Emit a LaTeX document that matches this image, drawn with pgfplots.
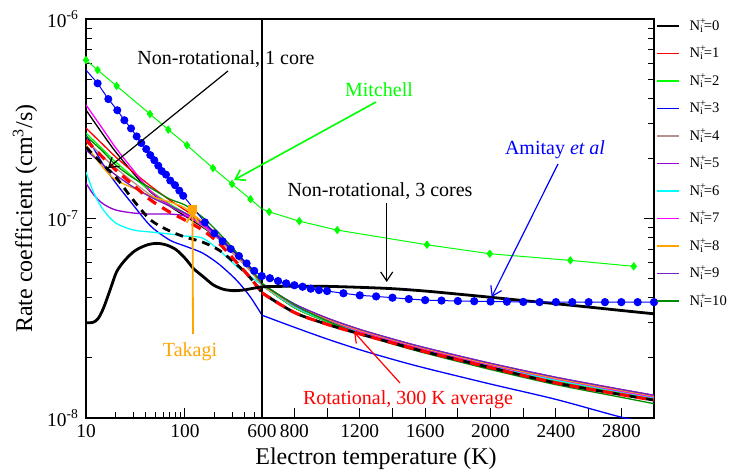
\documentclass[border=0pt]{standalone}
\usepackage{fontspec}
\setmainfont{Liberation Serif}
\usepackage{pgfplots}
\pgfplotsset{compat=1.18}
\usetikzlibrary{arrows.meta}

\definecolor{xbrown}{RGB}{188,143,143}
\definecolor{xviolet}{RGB}{148,0,211}
\definecolor{xindigo}{RGB}{114,33,188}
\definecolor{xgreenD}{RGB}{0,139,0}
\definecolor{xgreen}{RGB}{0,255,0}
\definecolor{xorange}{RGB}{255,165,0}
\definecolor{xcyan}{RGB}{0,255,255}
\definecolor{xmag}{RGB}{255,0,255}
\definecolor{xblue}{RGB}{0,0,255}
\definecolor{xred}{RGB}{255,0,0}

\tikzset{nl/.style={line width=0.65pt, smooth}}

\begin{document}
\begin{tikzpicture}
\useasboundingbox (0,0) rectangle (364.5pt,236pt);

% ---------------- left (log) part ----------------
\begin{axis}[scale only axis, height=199.5pt, width=88pt,
  at={(43pt,27pt)}, anchor=south west,
  xmode=log, ymode=log, xmin=10, xmax=600, ymin=1e-8, ymax=1e-6,
  axis line style={line width=0.8pt},
  major tick length=5pt, minor tick length=3pt,
  tick style={line width=0.5pt, black},
  tick label style={font=\fontsize{9.7}{11}\selectfont},
  xtick={10,100,600}, xticklabels={10,100,600},
  minor xtick={20,30,40,50,60,70,80,90,200,300,400,500},
  ytick={1e-8,1e-7,1e-6},
  minor ytick={2e-8,3e-8,4e-8,5e-8,6e-8,7e-8,8e-8,9e-8,2e-7,3e-7,4e-7,5e-7,6e-7,7e-7,8e-7,9e-7},
  yticklabels={10\textsuperscript{-8},10\textsuperscript{-7},10\textsuperscript{-6}},
  xtick pos=bottom, ytick pos=left,
  clip marker paths=false,
  ylabel={Rate coefficient (cm\textsuperscript{3}/s)},
  ylabel style={at={(axis description cs:-0.347,0.5)}, anchor=center, font=\fontsize{12}{14}\selectfont},
]
% N_i curves
\addplot[nl, no marks, black] coordinates {(10,3.50e-7)(15,2.62e-7)(20,2.154e-7)(30,1.69e-7)(45,1.358e-7)(70,1.155e-7)(100,1.029e-7)(150,9.07e-8)(220,7.89e-8)(330,6.49e-8)(450,5.52e-8)(600,4.64e-8)};
\addplot[nl, no marks, xred] coordinates {(10,2.84e-7)(15,2.335e-7)(20,2.033e-7)(30,1.71e-7)(45,1.455e-7)(70,1.238e-7)(100,1.103e-7)(150,9.60e-8)(220,8.17e-8)(330,6.64e-8)(450,5.65e-8)(600,4.69e-8)};
\addplot[nl, no marks, xgreen] coordinates {(10,2.68e-7)(15,2.205e-7)(20,1.919e-7)(30,1.614e-7)(45,1.373e-7)(70,1.182e-7)(100,1.066e-7)(150,9.28e-8)(220,7.99e-8)(330,6.49e-8)(450,5.52e-8)(600,4.64e-8)};
\addplot[nl, no marks, xblue] coordinates {(10,2.62e-7)(15,1.854e-7)(20,1.506e-7)(30,1.168e-7)(45,9.17e-8)(70,7.80e-8)(100,7.28e-8)(150,6.72e-8)(220,5.91e-8)(330,4.92e-8)(450,4.09e-8)(600,3.28e-8)};
\addplot[nl, no marks, xbrown] coordinates {(10,2.474e-7)(15,2.033e-7)(20,1.791e-7)(30,1.524e-7)(45,1.312e-7)(70,1.155e-7)(100,1.053e-7)(150,9.17e-8)(220,7.89e-8)(330,6.41e-8)(450,5.52e-8)(600,4.64e-8)};
\addplot[nl, no marks, xviolet] coordinates {(10,1.506e-7)(12,1.312e-7)(15,1.182e-7)(20,1.103e-7)(30,1.066e-7)(45,1.053e-7)(70,1.053e-7)(100,1.029e-7)(150,9.38e-8)(220,8.08e-8)(330,6.64e-8)(450,5.65e-8)(600,4.69e-8)};
\addplot[nl, no marks, xcyan] coordinates {(10,1.71e-7)(12,1.342e-7)(15,1.103e-7)(20,9.49e-8)(30,8.76e-8)(45,8.56e-8)(70,8.36e-8)(100,8.17e-8)(150,7.99e-8)(220,6.95e-8)(330,5.78e-8)(450,5.15e-8)(600,4.64e-8)};
\addplot[nl, no marks, xmag] coordinates {(10,3.71e-7)(15,2.78e-7)(20,2.26e-7)(30,1.75e-7)(45,1.373e-7)(70,1.168e-7)(100,1.053e-7)(150,9.28e-8)(220,7.99e-8)(330,6.56e-8)(450,5.65e-8)(600,4.69e-8)};
\addplot[nl, no marks, xorange] coordinates {(10,2.335e-7)(15,1.791e-7)(20,1.560e-7)(30,1.422e-7)(45,1.297e-7)(70,1.210e-7)(100,1.129e-7)(150,9.60e-8)(220,8.08e-8)(330,6.56e-8)(450,5.58e-8)(600,4.64e-8)};
\addplot[nl, no marks, xindigo] coordinates {(10,2.205e-7)(15,1.854e-7)(20,1.652e-7)(30,1.438e-7)(45,1.282e-7)(70,1.155e-7)(100,1.066e-7)(150,9.49e-8)(220,8.17e-8)(330,6.64e-8)(450,5.65e-8)(600,4.69e-8)};
\addplot[nl, no marks, xgreenD] coordinates {(10,2.59e-7)(15,2.154e-7)(20,1.854e-7)(30,1.596e-7)(45,1.422e-7)(70,1.253e-7)(100,1.168e-7)(150,1.017e-7)(220,8.46e-8)(330,6.79e-8)(450,5.71e-8)(600,4.75e-8)};
% non-rotational 1 core (black dashed) and rotational 300 K average (red dashed)
\addplot[black, line width=1.4pt, no marks, smooth, dash pattern=on 4pt off 3pt] coordinates {(10,2.28e-7)(15,1.854e-7)(20,1.614e-7)(30,1.238e-7)(45,9.83e-8)(70,8.66e-8)(100,8.08e-8)(150,7.62e-8)(220,6.95e-8)(330,5.91e-8)(450,5.09e-8)(600,4.25e-8)};
\addplot[xred, line width=1.6pt, no marks, smooth, dash pattern=on 5pt off 3.5pt] coordinates {(10,2.474e-7)(15,2.010e-7)(20,1.750e-7)(30,1.472e-7)(45,1.238e-7)(70,1.078e-7)(100,9.83e-8)(150,8.76e-8)(220,7.54e-8)(330,6.05e-8)(450,5.09e-8)(600,4.25e-8)};
% non-rotational 3 cores (thick black)
\addplot[black, line width=1.4pt, no marks, smooth] coordinates {(10,3.00e-8)(11.85,3.02e-8)(13.3,3.16e-8)(15,3.55e-8)(17.5,4.38e-8)(20.4,5.41e-8)(24.8,6.19e-8)(31.3,6.90e-8)(41,7.36e-8)(51.8,7.51e-8)(65.3,7.36e-8)(82.4,6.95e-8)(104,6.19e-8)(121,5.63e-8)(153,5.11e-8)(193,4.65e-8)(244,4.42e-8)(308,4.35e-8)(388,4.38e-8)(490,4.47e-8)(600,4.55e-8)};
% Mitchell
\addplot[xgreen, line width=0.5pt, no marks] coordinates {(10,6.23e-7)(13.1,5.55e-7)(20.4,4.62e-7)(44.3,3.34e-7)(67.8,2.79e-7)(104.7,2.33e-7)(191.8,1.79e-7)(298.7,1.49e-7)(459,1.25e-7)(646,1.08e-7)};
\addplot[xgreen, only marks, mark=diamond*, mark size=1.8pt] coordinates {(10,6.23e-7)(13.1,5.55e-7)(20.4,4.62e-7)(44.3,3.34e-7)(67.8,2.79e-7)(104.7,2.33e-7)(191.8,1.79e-7)(298.7,1.49e-7)(459,1.25e-7)};
% Amitay et al
\addplot[xblue, line width=0.5pt, no marks] coordinates {(10,5.55e-7)(13.1,4.76e-7)(16.8,3.97e-7)(20.7,3.49e-7)(24.4,3.11e-7)(28.5,2.83e-7)(32.5,2.58e-7)(36.2,2.39e-7)(40.6,2.23e-7)(44.6,2.08e-7)(49,1.96e-7)(53.7,1.84e-7)(58.2,1.73e-7)(64.3,1.66e-7)(71,1.55e-7)(79.3,1.47e-7)(87.6,1.38e-7)(96,1.30e-7)(159,9.57e-8)(198,8.43e-8)(240,7.69e-8)(290,7.04e-8)(351,6.49e-8)(420,5.96e-8)(501,5.47e-8)(600,5.15e-8)};
\addplot[xblue, only marks, mark=*, mark size=1.8pt] coordinates {(13.1,4.76e-7)(16.8,3.97e-7)(20.7,3.49e-7)(24.4,3.11e-7)(28.5,2.83e-7)(32.5,2.58e-7)(36.2,2.39e-7)(40.6,2.23e-7)(44.6,2.08e-7)(49,1.96e-7)(53.7,1.84e-7)(58.2,1.73e-7)(64.3,1.66e-7)(71,1.55e-7)(79.3,1.47e-7)(87.6,1.38e-7)(96,1.30e-7)(159,9.57e-8)(198,8.43e-8)(240,7.69e-8)(290,7.04e-8)(351,6.49e-8)(420,5.96e-8)(501,5.47e-8)};
% Takagi
\addplot[xorange, only marks, mark=square*, mark size=2pt] coordinates {(120,1.11e-7)};
\end{axis}

% ---------------- right (linear) part ----------------
\begin{axis}[scale only axis, height=199.5pt, width=196.15pt,
  at={(130.85pt,27pt)}, anchor=south west,
  ymode=log, xmin=600, xmax=3000, ymin=1e-8, ymax=1e-6,
  axis line style={line width=0.8pt},
  major tick length=5pt, minor tick length=3pt,
  tick style={line width=0.5pt, black},
  tick label style={font=\fontsize{9.7}{11}\selectfont},
  xtick={600,800,1000,1200,1400,1600,1800,2000,2200,2400,2600,2800,3000},
  xticklabels={,800,,1200,,1600,,2000,,2400,,2800,},
  ytick={1e-8,1e-7,1e-6},
  minor ytick={2e-8,3e-8,4e-8,5e-8,6e-8,7e-8,8e-8,9e-8,2e-7,3e-7,4e-7,5e-7,6e-7,7e-7,8e-7,9e-7},
  yticklabels={},
  xtick pos=bottom, ytick pos=right,
  clip marker paths=false,
  xlabel={Electron temperature (K)},
  xlabel style={at={(axis description cs:0.2914,-0.103)}, anchor=center, font=\fontsize{12}{14}\selectfont},
  legend cell align=left,
  legend style={at={(1,1)}, anchor=north west, draw=none, fill=none,
    xshift=0.8pt, yshift=3.6pt, inner sep=0pt,
    font=\fontsize{7.3}{9}\selectfont,
    nodes={inner sep=0pt, minimum height=13.75pt},
    /tikz/every odd column/.append style={column sep=5pt}},
  legend image code/.code={\draw[#1, line width=0.8pt] (0pt,0pt) -- (11pt,0pt);},
]
\addplot[nl, no marks, black] coordinates {(600,4.64e-8)(800,3.58e-8)(1000,3.04e-8)(1200,2.67e-8)(1400,2.39e-8)(1600,2.16e-8)(2000,1.80e-8)(2400,1.54e-8)(2800,1.33e-8)(3000,1.25e-8)};
\addlegendentry{N\rlap{\textsuperscript{+}}\textsubscript{i}=0}
\addplot[nl, no marks, xred] coordinates {(600,4.69e-8)(800,3.58e-8)(1000,3.04e-8)(1200,2.67e-8)(1400,2.39e-8)(1600,2.16e-8)(2000,1.80e-8)(2400,1.54e-8)(2800,1.33e-8)(3000,1.25e-8)};
\addlegendentry{N\rlap{\textsuperscript{+}}\textsubscript{i}=1}
\addplot[nl, no marks, xgreen] coordinates {(600,4.64e-8)(800,3.58e-8)(1000,3.04e-8)(1200,2.67e-8)(1400,2.39e-8)(1600,2.16e-8)(2000,1.80e-8)(2400,1.54e-8)(2800,1.33e-8)(3000,1.25e-8)};
\addlegendentry{N\rlap{\textsuperscript{+}}\textsubscript{i}=2}
\addplot[nl, no marks, xblue] coordinates {(600,3.28e-8)(800,2.85e-8)(1000,2.49e-8)(1200,2.20e-8)(1400,1.97e-8)(1600,1.78e-8)(2000,1.48e-8)(2400,1.24e-8)(2800,1.01e-8)(3000,0.94e-8)};
\addlegendentry{N\rlap{\textsuperscript{+}}\textsubscript{i}=3}
\addplot[nl, no marks, xbrown] coordinates {(600,4.64e-8)(800,3.62e-8)(1000,3.07e-8)(1200,2.70e-8)(1400,2.42e-8)(1600,2.18e-8)(2000,1.82e-8)(2400,1.55e-8)(2800,1.35e-8)(3000,1.26e-8)};
\addlegendentry{N\rlap{\textsuperscript{+}}\textsubscript{i}=4}
\addplot[nl, no marks, xviolet] coordinates {(600,4.69e-8)(800,3.73e-8)(1000,3.17e-8)(1200,2.78e-8)(1400,2.49e-8)(1600,2.25e-8)(2000,1.88e-8)(2400,1.60e-8)(2800,1.39e-8)(3000,1.30e-8)};
\addlegendentry{N\rlap{\textsuperscript{+}}\textsubscript{i}=5}
\addplot[nl, no marks, xcyan] coordinates {(600,4.64e-8)(800,3.62e-8)(1000,3.07e-8)(1200,2.70e-8)(1400,2.42e-8)(1600,2.18e-8)(2000,1.82e-8)(2400,1.55e-8)(2800,1.35e-8)(3000,1.26e-8)};
\addlegendentry{N\rlap{\textsuperscript{+}}\textsubscript{i}=6}
\addplot[nl, no marks, xmag] coordinates {(600,4.69e-8)(800,3.66e-8)(1000,3.11e-8)(1200,2.72e-8)(1400,2.44e-8)(1600,2.205e-8)(2000,1.84e-8)(2400,1.57e-8)(2800,1.36e-8)(3000,1.274e-8)};
\addlegendentry{N\rlap{\textsuperscript{+}}\textsubscript{i}=7}
\addplot[nl, no marks, xorange] coordinates {(600,4.64e-8)(800,3.69e-8)(1000,3.14e-8)(1200,2.75e-8)(1400,2.47e-8)(1600,2.23e-8)(2000,1.86e-8)(2400,1.58e-8)(2800,1.376e-8)(3000,1.287e-8)};
\addlegendentry{N\rlap{\textsuperscript{+}}\textsubscript{i}=8}
\addplot[nl, no marks, xindigo] coordinates {(600,4.69e-8)(800,3.73e-8)(1000,3.17e-8)(1200,2.78e-8)(1400,2.49e-8)(1600,2.25e-8)(2000,1.88e-8)(2400,1.60e-8)(2800,1.39e-8)(3000,1.30e-8)};
\addlegendentry{N\rlap{\textsuperscript{+}}\textsubscript{i}=9}
\addplot[nl, no marks, xgreenD] coordinates {(600,4.75e-8)(800,3.69e-8)(1000,3.07e-8)(1200,2.65e-8)(1400,2.35e-8)(1600,2.115e-8)(2000,1.75e-8)(2400,1.47e-8)(2800,1.27e-8)(3000,1.18e-8)};
\addlegendentry{N\rlap{\textsuperscript{+}}\textsubscript{i}=10}
% dashed curves
\addplot[forget plot, black, line width=1.4pt, no marks, smooth, dash pattern=on 5pt off 3.5pt, dash phase=4pt] coordinates {(600,4.25e-8)(800,3.38e-8)(1000,2.95e-8)(1200,2.64e-8)(1400,2.38e-8)(1600,2.15e-8)(2000,1.79e-8)(2400,1.50e-8)(2800,1.31e-8)(3000,1.23e-8)};
\addplot[forget plot, xred, line width=1.6pt, no marks, smooth, dash pattern=on 5pt off 3.5pt] coordinates {(600,4.25e-8)(800,3.38e-8)(1000,2.95e-8)(1200,2.64e-8)(1400,2.38e-8)(1600,2.15e-8)(2000,1.79e-8)(2400,1.50e-8)(2800,1.31e-8)(3000,1.23e-8)};
% thick black
\addplot[forget plot, black, line width=1.4pt, no marks, smooth] coordinates {(600,4.55e-8)(800,4.58e-8)(1000,4.57e-8)(1200,4.52e-8)(1400,4.45e-8)(1600,4.33e-8)(1800,4.18e-8)(2000,4.03e-8)(2200,3.88e-8)(2400,3.74e-8)(2600,3.60e-8)(2800,3.46e-8)(3000,3.33e-8)};
% Mitchell
\addplot[forget plot, xgreen, line width=0.5pt, no marks] coordinates {(459,1.25e-7)(646,1.08e-7)(830,9.7e-8)(1062,8.75e-8)(1611,7.39e-8)(1995,6.66e-8)(2488,6.17e-8)(2876,5.76e-8)};
\addplot[forget plot, xgreen, only marks, mark=diamond*, mark size=1.8pt] coordinates {(646,1.08e-7)(830,9.7e-8)(1062,8.75e-8)(1611,7.39e-8)(1995,6.66e-8)(2488,6.17e-8)(2876,5.76e-8)};
% Amitay
\addplot[forget plot, xblue, line width=0.5pt, mark=*, mark size=1.8pt] coordinates {(600,5.15e-8)(650,5.02e-8)(700,4.86e-8)(750,4.73e-8)(800,4.63e-8)(850,4.55e-8)(900,4.45e-8)(950,4.38e-8)(1000,4.33e-8)(1100,4.22e-8)(1200,4.12e-8)(1300,4.07e-8)(1400,4.01e-8)(1500,3.95e-8)(1600,3.90e-8)(1700,3.88e-8)(1800,3.86e-8)(1900,3.85e-8)(2000,3.84e-8)(2100,3.83e-8)(2200,3.82e-8)(2300,3.81e-8)(2400,3.81e-8)(2500,3.81e-8)(2600,3.81e-8)(2700,3.81e-8)(2800,3.81e-8)(2900,3.81e-8)(3000,3.81e-8)};
\end{axis}

% ---------------- annotations (pixel grid of the reference) ----------------
\begin{scope}[x=0.5pt, y=-0.5pt, yshift=236pt, font=\fontsize{10}{12}\selectfont,
  arr/.style={-{Straight Barb[length=4.5pt,width=6pt]}, line width=0.6pt}]
  \node[black] at (226,59) {Non-rotational, 1 core};
  \draw[arr, black] (228,71) -- (108,168);
  \node[xgreen] at (379,90) {Mitchell};
  \draw[arr, xgreen, line width=0.8pt] (376,102) -- (234,180);
  \node[black] at (380,191) {Non-rotational, 3 cores};
  \draw[arr, black] (386.7,203) -- (386.7,282);
  \node[xblue] at (555,150) {Amitay \textit{et al}};
  \draw[arr, xblue] (558,164) -- (491.7,297);
  \node[xorange] at (190,352) {Takagi};
  \draw[arr, xorange, line width=0.9pt] (193,334) -- (192.5,212);
  \node[xred] at (408,400) {Rotational, 300 K average};
  \draw[arr, xred] (400,383) -- (354,332);
\end{scope}
\end{tikzpicture}
\end{document}
